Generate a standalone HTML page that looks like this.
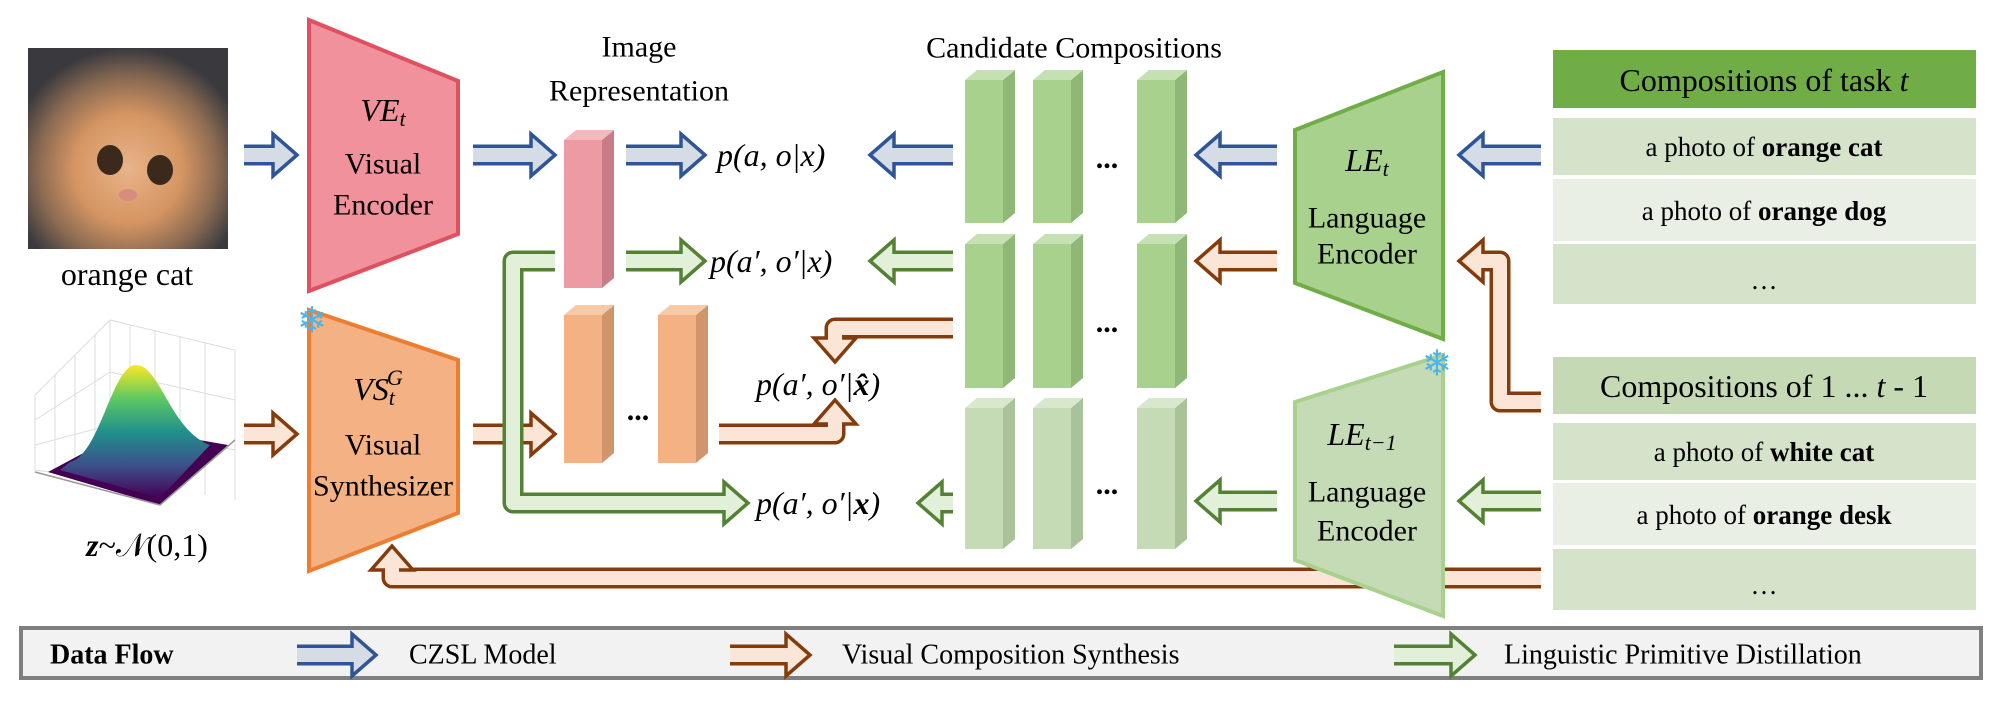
<!DOCTYPE html>
<html><head><meta charset="utf-8"><style>
html,body{margin:0;padding:0;background:#fff}
svg{display:block}
svg text{font-family:"Liberation Serif","Times New Roman",serif;fill:#000}
</style></head><body>
<svg id="s" width="2004" height="705" viewBox="0 0 2004 705" xmlns="http://www.w3.org/2000/svg" font-family="Liberation Serif, serif">
<defs>
<radialGradient id="cat" cx="0.5" cy="0.6" r="0.6">
<stop offset="0" stop-color="#e8b48a"/><stop offset="0.45" stop-color="#d59562"/><stop offset="0.75" stop-color="#8a6a52"/><stop offset="1" stop-color="#3a3a3e"/>
</radialGradient>
<linearGradient id="bell" x1="0" y1="0" x2="0" y2="1">
<stop offset="0" stop-color="#fde725"/><stop offset="0.25" stop-color="#5ec962"/><stop offset="0.5" stop-color="#21918c"/><stop offset="0.75" stop-color="#3b528b"/><stop offset="1" stop-color="#440154"/>
</linearGradient>
</defs>
<!-- cat -->
<rect x="28" y="48" width="200" height="201" fill="url(#cat)"/>
<ellipse cx="110" cy="160" rx="13" ry="15" fill="#3b2a1c"/>
<ellipse cx="160" cy="170" rx="13" ry="15" fill="#3b2a1c"/>
<ellipse cx="128" cy="195" rx="9" ry="6" fill="#d98b80"/>
<text x="127" y="274" font-size="32" text-anchor="middle" dominant-baseline="central">orange cat</text>
<!-- gaussian -->
<g stroke="#ddd" stroke-width="1" fill="none">
<path d="M35 395 L110 320 L110 480 L35 470 Z M110 320 L235 350 L235 500"/>
<path d="M55 375 L55 472 M75 355 L75 475 M95 335 L95 478 M130 325 L130 482 M155 330 L155 485 M180 336 L180 490 M205 342 L205 495 M35 420 L110 372 L235 400 M35 445 L110 425 L235 450"/>
</g>
<polygon points="48,472 160,505 228,445 130,428" fill="#440154"/>
<path d="M70 462 C100 455 112 365 136 365 C160 365 170 430 210 445 L160 498 L60 470 Z" fill="url(#bell)"/>
<path d="M35 472 L160 505 L235 440" stroke="#999" stroke-width="1.5" fill="none"/>
<text x="147" y="545" font-size="32" text-anchor="middle" dominant-baseline="central"><tspan font-weight="bold" font-style="italic">z</tspan>~𝒩(0,1)</text>
<!-- encoders -->
<polygon points="309,20 458,81 458,234 309,291" fill="#f0919b" stroke="#e0505f" stroke-width="4"/>
<text x="383" y="110" font-size="32" text-anchor="middle" dominant-baseline="central" font-style="italic">VE<tspan font-size="22" dy="8">t</tspan></text>
<text x="383" y="164" font-size="30" text-anchor="middle" dominant-baseline="central">Visual</text>
<text x="383" y="205" font-size="30" text-anchor="middle" dominant-baseline="central">Encoder</text>
<polygon points="309,310 458,360 458,513 309,571" fill="#f4b183" stroke="#ed7d31" stroke-width="4"/>
<text x="378" y="389" font-size="32" text-anchor="middle" dominant-baseline="central" font-style="italic">VS<tspan font-size="22" dy="8">t</tspan><tspan font-size="22" dy="-20" dx="-8">G</tspan></text>
<text x="383" y="445" font-size="30" text-anchor="middle" dominant-baseline="central">Visual</text>
<text x="383" y="486" font-size="30" text-anchor="middle" dominant-baseline="central">Synthesizer</text>
<polygon points="1295,130 1443,72 1443,339 1295,283" fill="#a9d18e" stroke="#70ad47" stroke-width="4"/>
<text x="1367" y="160" font-size="32" text-anchor="middle" dominant-baseline="central" font-style="italic">LE<tspan font-size="22" dy="8">t</tspan></text>
<text x="1367" y="218" font-size="30" text-anchor="middle" dominant-baseline="central">Language</text>
<text x="1367" y="254" font-size="30" text-anchor="middle" dominant-baseline="central">Encoder</text>
<g id="bars"></g>
<g id="arrows"></g>
<polygon points="1295,402 1443,355 1443,616 1295,560" fill="#c5dbb5" stroke="#a9d18e" stroke-width="4"/>
<text x="1362" y="434" font-size="32" text-anchor="middle" dominant-baseline="central" font-style="italic">LE<tspan font-size="22" dy="8">t−1</tspan></text>
<text x="1367" y="492" font-size="30" text-anchor="middle" dominant-baseline="central">Language</text>
<text x="1367" y="531" font-size="30" text-anchor="middle" dominant-baseline="central">Encoder</text>
<text x="312" y="321" font-size="36" text-anchor="middle" dominant-baseline="central" style="font-family:'DejaVu Sans';fill:#4fb3e8">❄</text>
<text x="1437" y="364" font-size="36" text-anchor="middle" dominant-baseline="central" style="font-family:'DejaVu Sans';fill:#4fb3e8">❄</text>
<!-- titles -->
<text x="639" y="47" font-size="30" text-anchor="middle" dominant-baseline="central">Image</text>
<text x="639" y="91" font-size="30" text-anchor="middle" dominant-baseline="central">Representation</text>
<text x="1074" y="48" font-size="30" text-anchor="middle" dominant-baseline="central">Candidate Compositions</text>
<!-- probabilities -->
<g font-size="32" font-style="italic">
<text x="717" y="155" dominant-baseline="central">p(a, o|x)</text>
<text x="710" y="261" dominant-baseline="central">p(a′, o′|x)</text>
<text x="756" y="384" dominant-baseline="central">p(a′, o′|<tspan font-weight="bold">x̂</tspan>)</text>
<text x="756" y="503" dominant-baseline="central">p(a′, o′|<tspan font-weight="bold">x</tspan>)</text>
</g>
<g font-size="30" font-weight="bold" text-anchor="middle">
<text x="1107" y="168">...</text><text x="1107" y="332">...</text><text x="1107" y="494">...</text><text x="638" y="420">...</text>
</g>
<!-- tables -->
<rect x="1553" y="50" width="423" height="58" fill="#70ad47"/>
<rect x="1553" y="118" width="423" height="57" fill="#d5e3cb"/>
<rect x="1553" y="179" width="423" height="62" fill="#e9efe4"/>
<rect x="1553" y="244" width="423" height="60" fill="#d5e3cb"/>
<rect x="1553" y="357" width="423" height="57" fill="#c5d9b5"/>
<rect x="1553" y="423" width="423" height="57" fill="#d5e3cb"/>
<rect x="1553" y="483" width="423" height="62" fill="#e9efe4"/>
<rect x="1553" y="549" width="423" height="61" fill="#d5e3cb"/>
<g text-anchor="middle" dominant-baseline="central">
<text x="1764" y="80" font-size="32">Compositions of task <tspan font-style="italic">t</tspan></text>
<text x="1764" y="147" font-size="27">a photo of <tspan font-weight="bold">orange cat</tspan></text>
<text x="1764" y="211" font-size="27">a photo of <tspan font-weight="bold">orange dog</tspan></text>
<text x="1764" y="280" font-size="27">…</text>
<text x="1764" y="386" font-size="32">Compositions of 1 ... <tspan font-style="italic">t</tspan> - 1</text>
<text x="1764" y="452" font-size="27">a photo of <tspan font-weight="bold">white cat</tspan></text>
<text x="1764" y="515" font-size="27">a photo of <tspan font-weight="bold">orange desk</tspan></text>
<text x="1764" y="585" font-size="27">…</text>
</g>
<!-- legend -->
<rect x="21" y="628" width="1960" height="50" fill="#f2f2f2" stroke="#7f7f7f" stroke-width="4"/>
<g id="arrows2"></g>
<text x="50" y="655" font-size="28" font-weight="bold" dominant-baseline="central">Data Flow</text>
<text x="409" y="655" font-size="28" dominant-baseline="central">CZSL Model</text>
<text x="842" y="655" font-size="28" dominant-baseline="central">Visual Composition Synthesis</text>
<text x="1504" y="655" font-size="28" dominant-baseline="central">Linguistic Primitive Distillation</text>
</svg>
<script>
var NS="http://www.w3.org/2000/svg";
function el(p,t,a){var e=document.createElementNS(NS,t);for(var k in a)e.setAttribute(k,a[k]);p.appendChild(e);return e;}
var bars=document.getElementById('bars');
function bar(x,y1,y2,f,s,t){var w=38,d=12,c=10;
el(bars,'rect',{x:x,y:y1+c,width:w,height:y2-y1-c,fill:f});
el(bars,'polygon',{points:(x+w)+','+(y1+c)+' '+(x+w+d)+','+y1+' '+(x+w+d)+','+(y2-c)+' '+(x+w)+','+y2,fill:s});
el(bars,'polygon',{points:x+','+(y1+c)+' '+(x+d)+','+y1+' '+(x+w+d)+','+y1+' '+(x+w)+','+(y1+c),fill:t});}
bar(564,130,288,'#ec9aa3','#c97c85','#f4b8bf');
bar(564,305,463,'#f4b183','#d0956b','#f8c9a6');
bar(658,305,463,'#f4b183','#d0956b','#f8c9a6');
[965,1033,1137].forEach(function(x){
bar(x,70,223,'#a9d18e','#8fb877','#c5e0b3');
bar(x,234,388,'#a9d18e','#8fb877','#c5e0b3');
bar(x,398,549,'#c5dbb5','#a9c29a','#d8e8cc');});
var A=document.getElementById('arrows');
var C={b:['#2f5597','#d6dce5'],o:['#843c0c','#fbe5d6'],g:['#548235','#e2f0d9']};
function arrow(pts,c){var dk=C[c][0],lt=C[c][1];var n=pts.length;
var L=24,H=21;var p=pts[n-1],q=pts[n-2];var dx=p[0]-q[0],dy=p[1]-q[1];var len=Math.hypot(dx,dy);var ux=dx/len,uy=dy/len;
var bx=p[0]-ux*L,by=p[1]-uy*L;var d='M'+pts[0][0]+' '+pts[0][1];for(var i=1;i<n-1;i++)d+=' L'+pts[i][0]+' '+pts[i][1];d+=' L'+bx+' '+by;
el(A,'path',{d:d,fill:'none',stroke:dk,'stroke-width':21,'stroke-linejoin':'round'});
el(A,'path',{d:d,fill:'none',stroke:lt,'stroke-width':14,'stroke-linejoin':'round'});
var px=-uy,py=ux;
el(A,'polygon',{points:p[0]+','+p[1]+' '+(bx+px*H)+','+(by+py*H)+' '+(bx-px*H)+','+(by-py*H),fill:lt,stroke:dk,'stroke-width':3.5,'stroke-linejoin':'miter'});
var d2='M'+(bx-ux*6)+' '+(by-uy*6)+' L'+(bx+ux*3)+' '+(by+uy*3);
el(A,'path',{d:d2,stroke:lt,'stroke-width':14,fill:'none'});}
arrow([[244,155],[297,155]],'b');
arrow([[473,155],[555,155]],'b');
arrow([[626,155],[705,155]],'b');
arrow([[953,155],[870,155]],'b');
arrow([[1277,155],[1196,155]],'b');
arrow([[1541,155],[1459,155]],'b');
arrow([[626,261],[705,261]],'g');
arrow([[953,261],[870,261]],'g');
arrow([[1277,261],[1196,261]],'o');
arrow([[244,434],[297,434]],'o');
arrow([[473,434],[555,434]],'o');
arrow([[953,328],[835,328],[835,362]],'o');
arrow([[719,434],[835,434],[835,400]],'o');
arrow([[555,261],[513,261],[513,503],[748,503]],'g');
arrow([[953,503],[918,503]],'g');
arrow([[1277,501],[1196,501]],'g');
arrow([[1541,501],[1459,501]],'g');
arrow([[1541,402],[1500,402],[1500,261],[1459,261]],'o');
arrow([[1541,578],[392,578],[392,546]],'o');
A=document.getElementById('arrows2');
arrow([[297,655],[376,655]],'b');
arrow([[730,655],[810,655]],'o');
arrow([[1394,655],[1475,655]],'g');
</script>
</body></html>
